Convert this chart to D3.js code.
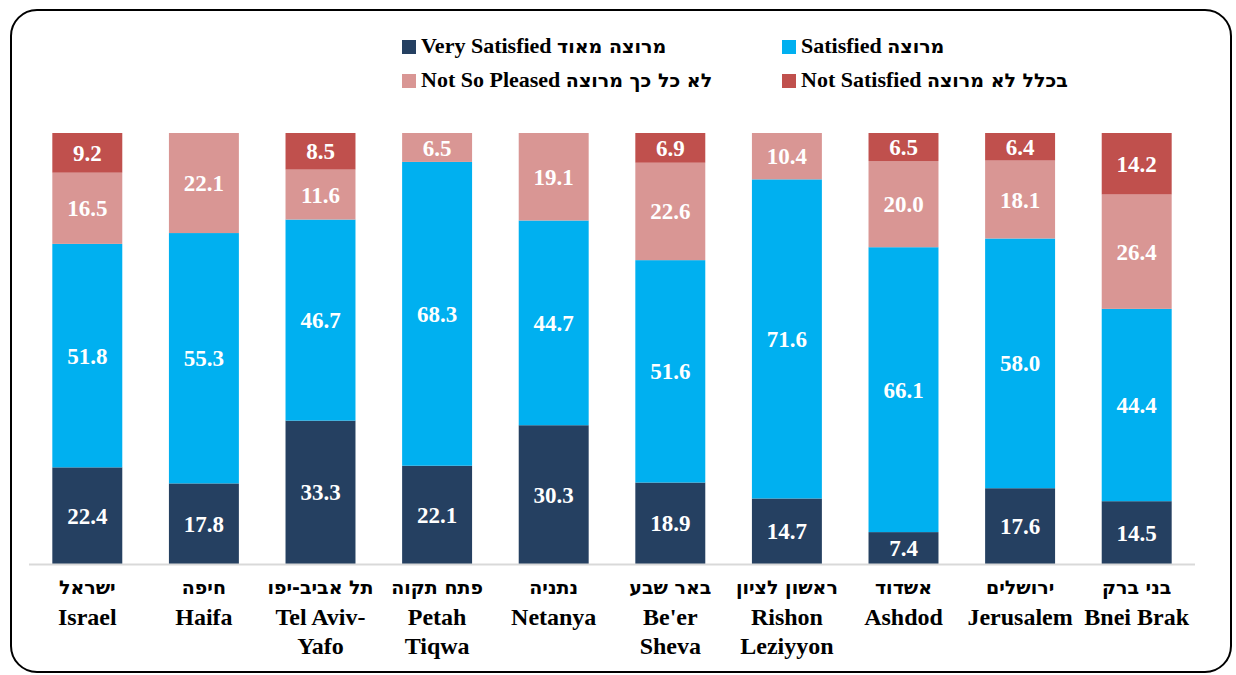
<!DOCTYPE html>
<html>
<head>
<meta charset="utf-8">
<script src="https://cdn.jsdelivr.net/npm/d3@7"></script>
<style>
  html, body { margin: 0; padding: 0; background: #fff; }
  svg { display: block; font-family: "Liberation Serif", "Times New Roman", serif; }
  .he { font-family: "DejaVu Sans", "Liberation Sans", sans-serif; font-weight: bold; }
</style>
</head>
<body>
<script>
const WIDTH = 1236;
const HEIGHT = 675;

const cityHe = ["ישראל", "חיפה", "תל אביב-יפו", "פתח תקוה", "נתניה", "באר שבע", "ראשון לציון", "אשדוד", "ירושלים", "בני ברק"];
const cityEn = [["Israel"], ["Haifa"], ["Tel Aviv-", "Yafo"], ["Petah", "Tiqwa"], ["Netanya"], ["Be'er", "Sheva"], ["Rishon", "Leziyyon"], ["Ashdod"], ["Jerusalem"], ["Bnei Brak"]];

const verySatisfied = [22.4, 17.8, 33.3, 22.1, 30.3, 18.9, 14.7, 7.4, 17.6, 14.5];
const satisfied     = [51.8, 55.3, 46.7, 68.3, 44.7, 51.6, 71.6, 66.1, 58.0, 44.4];
const notSoPleased  = [16.5, 22.1, 11.6, 6.5, 19.1, 22.6, 10.4, 20.0, 18.1, 26.4];
const notSatisfied  = [9.2, 0, 8.5, 0, 0, 6.9, 0, 6.5, 6.4, 14.2];

const seriesKeys = ["very", "sat", "notSo", "notSat"];
const seriesEn = ["Very Satisfied", "Satisfied", "Not So Pleased", "Not Satisfied"];
const seriesHe = ["מרוצה מאוד", "מרוצה", "לא כל כך מרוצה", "בכלל לא מרוצה"];
const seriesColors = ["#254061", "#00B0F0", "#D99694", "#C0504D"];

const rows = cityEn.map((_, i) => ({
  i,
  very: verySatisfied[i],
  sat: satisfied[i],
  notSo: notSoPleased[i],
  notSat: notSatisfied[i]
}));

// 100% stacked, as in the original chart
const stacked = d3.stack().keys(seriesKeys).offset(d3.stackOffsetExpand)(rows);

const svg = d3.select("body").append("svg")
  .attr("width", WIDTH)
  .attr("height", HEIGHT);

// Rounded frame
svg.append("rect")
  .attr("x", 11).attr("y", 10)
  .attr("width", 1220).attr("height", 662)
  .attr("rx", 26).attr("ry", 26)
  .attr("fill", "#fff")
  .attr("stroke", "#000")
  .attr("stroke-width", 2);

const x = d3.scaleBand()
  .domain(d3.range(cityEn.length))
  .range([29, 1195])
  .paddingInner(0.4)
  .paddingOuter(0.2);

const y = d3.scaleLinear().domain([0, 1]).range([564, 133]);

// Bars
const layers = svg.append("g")
  .selectAll("g")
  .data(stacked)
  .join("g")
  .attr("fill", (d, k) => seriesColors[k]);

layers.selectAll("rect")
  .data(d => d)
  .join("rect")
  .attr("x", d => x(d.data.i))
  .attr("width", x.bandwidth())
  .attr("y", d => y(d[1]))
  .attr("height", d => y(d[0]) - y(d[1]));

// Value labels
svg.append("g")
  .selectAll("g")
  .data(stacked)
  .join("g")
  .selectAll("text")
  .data(s => s.filter(d => d.data[s.key] > 0).map(d => ({ d, v: d.data[s.key] })))
  .join("text")
  .attr("x", o => x(o.d.data.i) + x.bandwidth() / 2)
  .attr("y", o => (y(o.d[0]) + y(o.d[1])) / 2)
  .attr("dy", "0.35em")
  .attr("text-anchor", "middle")
  .attr("fill", "#fff")
  .attr("font-size", 23)
  .attr("font-weight", "bold")
  .text(o => d3.format(".1f")(o.v));

// Axis line
svg.append("line")
  .attr("x1", 29).attr("x2", 1195)
  .attr("y1", 564.5).attr("y2", 564.5)
  .attr("stroke", "#d9d9d9")
  .attr("stroke-width", 2);

// Category labels: Hebrew line, then English lines
const cats = svg.append("g")
  .selectAll("g")
  .data(cityEn.map((en, i) => ({ i, he: cityHe[i], en })))
  .join("g")
  .attr("transform", d => `translate(${x(d.i) + x.bandwidth() / 2},0)`);

cats.append("text")
  .attr("class", "he")
  .attr("y", 594)
  .attr("text-anchor", "middle")
  .attr("font-size", 19)
  .attr("fill", "#000")
  .text(d => d.he);

cats.append("text")
  .attr("text-anchor", "middle")
  .attr("font-size", 24)
  .attr("font-weight", "bold")
  .attr("fill", "#000")
  .selectAll("tspan")
  .data(d => d.en)
  .join("tspan")
  .attr("x", 0)
  .attr("y", (d, j) => 625 + j * 29)
  .text(d => d);

// Legend
const legendPos = [[402, 47], [782, 47], [402, 81], [782, 81]];
const legend = svg.append("g")
  .selectAll("g")
  .data(seriesEn)
  .join("g")
  .attr("transform", (d, k) => `translate(${legendPos[k][0]},${legendPos[k][1]})`);

legend.append("rect")
  .attr("x", 0).attr("y", -7)
  .attr("width", 14).attr("height", 14)
  .attr("fill", (d, k) => seriesColors[k]);

const lt = legend.append("text")
  .attr("x", 19)
  .attr("dy", "0.35em")
  .attr("fill", "#000");

lt.append("tspan")
  .attr("font-size", 22)
  .attr("font-weight", "bold")
  .text(d => d + " ");

lt.append("tspan")
  .attr("class", "he")
  .attr("font-size", 19)
  .text((d, k) => seriesHe[k]);
</script>
</body>
</html>
